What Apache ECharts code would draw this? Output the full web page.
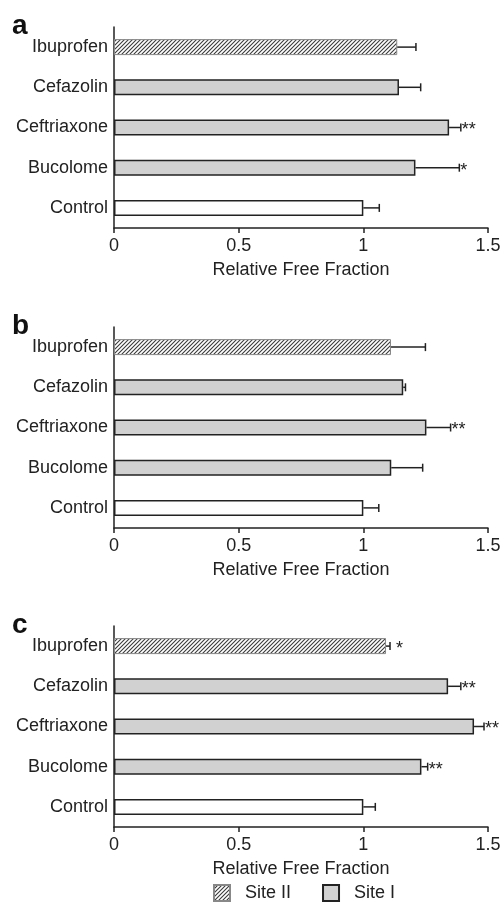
<!DOCTYPE html>
<html>
<head>
<meta charset="utf-8">
<script src="https://cdn.jsdelivr.net/npm/echarts@6/dist/echarts.min.js"></script>
<style>
  html, body { margin: 0; padding: 0; background: #fff; }
  #main { width: 504px; height: 902px; }
</style>
</head>
<body>
<div id="main"></div>
<script>
// categories bottom -> top (category axis starts at bottom)
var categories = ['Control', 'Bucolome', 'Ceftriaxone', 'Cefazolin', 'Ibuprofen'];
var ticks = [0, 0.5, 1, 1.5];

// panel a
var meanA = [1.0, 1.209, 1.344, 1.143, 1.136];
var sdA = [0.064, 0.176, 0.047, 0.087, 0.075];
var starA = ['', '*', '**', '', ''];
// panel b
var meanB = [1.0, 1.112, 1.253, 1.160, 1.111];
var sdB = [0.062, 0.126, 0.097, 0.009, 0.138];
var starB = ['', '', '**', '', ''];
// panel c
var meanC = [1.0, 1.233, 1.444, 1.340, 1.091];
var sdC = [0.048, 0.025, 0.040, 0.051, 0.016];
var starC = ['', '**', '**', '**', ' *'];

var panels = [
  { tag: 'a', top: 27, mean: meanA, sd: sdA, star: starA },
  { tag: 'b', top: 327, mean: meanB, sd: sdB, star: starB },
  { tag: 'c', top: 626, mean: meanC, sd: sdC, star: starC }
];

var FONT = '"Liberation Sans", Arial, sans-serif';
var INK = '#222';

// hatch pattern for Site II
var hc = document.createElement('canvas');
hc.width = 4; hc.height = 4;
var hx = hc.getContext('2d');
hx.fillStyle = '#fff';
hx.fillRect(0, 0, 4, 4);
hx.strokeStyle = '#3a3a3a';
hx.lineWidth = 1.1;
hx.beginPath();
hx.moveTo(-1, 5); hx.lineTo(5, -1);
hx.moveTo(-1, 1); hx.lineTo(1, -1);
hx.moveTo(3, 5); hx.lineTo(5, 3);
hx.stroke();
var hatch = { image: hc, repeat: 'repeat' };

function pick(arr, idx) {
  return arr.map(function (v, i) { return idx.indexOf(i) >= 0 ? v : '-'; });
}

function errRender(stars) {
  return function (params, api) {
    var c = api.value(0), m = api.value(1), s = api.value(2);
    var p0 = api.coord([m, c]);
    var p1 = api.coord([m + s, c]);
    var kids = [
      { type: 'line', shape: { x1: p0[0], y1: p0[1], x2: p1[0], y2: p1[1] },
        style: { stroke: INK, lineWidth: 1.5 } },
      { type: 'line', shape: { x1: p1[0], y1: p1[1] - 4, x2: p1[0], y2: p1[1] + 4 },
        style: { stroke: INK, lineWidth: 1.5 } }
    ];
    var st = stars[params.dataIndex];
    if (st) {
      kids.push({ type: 'text', x: p1[0] + 1, y: p1[1] + 3,
        style: { text: st, font: '18px ' + FONT, fill: INK, verticalAlign: 'middle', align: 'left' } });
    }
    return { type: 'group', children: kids };
  };
}

var grids = [], xAxes = [], yAxes = [], series = [], graphics = [];
panels.forEach(function (p, k) {
  grids.push({ left: 114, width: 374, top: p.top, height: 201 });
  xAxes.push({
    type: 'value', gridIndex: k, min: ticks[0], max: ticks[ticks.length - 1], interval: 0.5,
    name: 'Relative Free Fraction', nameLocation: 'middle', nameGap: 33,
    nameTextStyle: { fontFamily: FONT, fontSize: 18, color: INK },
    axisLine: { show: true, lineStyle: { color: INK, width: 1.5 } },
    axisTick: { show: true, length: 5, lineStyle: { color: INK, width: 1.5 } },
    axisLabel: { fontFamily: FONT, fontSize: 18, color: INK, margin: 9 },
    splitLine: { show: false }
  });
  yAxes.push({
    type: 'category', gridIndex: k, data: categories,
    axisLine: { show: true, lineStyle: { color: INK, width: 1.5 } },
    axisTick: { show: false },
    axisLabel: { fontFamily: FONT, fontSize: 18, color: INK, margin: 6 }
  });
  var common = { type: 'bar', xAxisIndex: k, yAxisIndex: k, barWidth: 16, barGap: '-100%', silent: true };
  series.push(Object.assign({}, common, {
    name: 'Site II', data: pick(p.mean, [4]),
    itemStyle: { color: hatch, borderColor: '#888', borderWidth: 1 }
  }));
  series.push(Object.assign({}, common, {
    name: 'Site I', data: pick(p.mean, [1, 2, 3]),
    itemStyle: { color: '#d0d1d0', borderColor: INK, borderWidth: 1.5 }
  }));
  series.push(Object.assign({}, common, {
    name: 'Control', data: pick(p.mean, [0]),
    itemStyle: { color: '#fff', borderColor: INK, borderWidth: 1.5 }
  }));
  series.push({
    type: 'custom', xAxisIndex: k, yAxisIndex: k, silent: true, z: 5,
    renderItem: errRender(p.star),
    encode: { x: [1], y: 0 },
    data: p.mean.map(function (m, i) { return [i, m, p.sd[i]]; })
  });
  graphics.push({
    type: 'text', left: 12, top: p.top - 15,
    style: { text: p.tag, font: 'bold 28px ' + FONT, fill: '#111' }
  });
});

var chart = echarts.init(document.getElementById('main'));
chart.setOption({
  animation: false,
  grid: grids,
  xAxis: xAxes,
  yAxis: yAxes,
  series: series,
  graphic: graphics,
  legend: {
    data: [{ name: 'Site II', icon: 'rect' }, { name: 'Site I', icon: 'rect' }],
    left: 213, top: 884, padding: 0,
    itemWidth: 16, itemHeight: 16, itemGap: 31,
    selectedMode: false,
    textStyle: { fontFamily: FONT, fontSize: 18, color: INK, padding: [0, 0, 0, 10] }
  }
});
</script>
</body>
</html>
